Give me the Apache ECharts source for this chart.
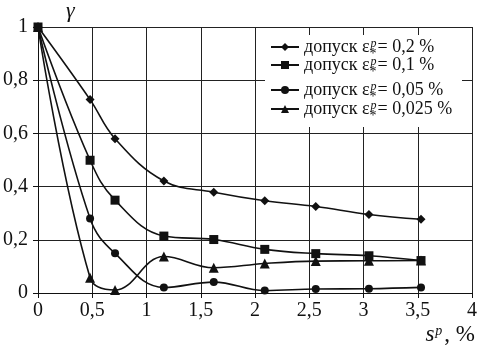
<!DOCTYPE html>
<html>
<head>
<meta charset="utf-8">
<script src="https://cdn.jsdelivr.net/npm/echarts@6/dist/echarts.min.js"></script>
<style>
  html, body { margin: 0; padding: 0; background: #fff; }
  #chart { width: 498px; height: 349px; }
</style>
</head>
<body>
<div id="chart"></div>
<script>
// strain s^p, % (same for all curves)
const sp = [0, 0.48, 0.71, 1.16, 1.62, 2.09, 2.56, 3.05, 3.53];

const tol02 = [1, 0.727, 0.58, 0.421, 0.379, 0.347, 0.325, 0.295, 0.277];
const tol01 = [1, 0.499, 0.349, 0.214, 0.201, 0.164, 0.148, 0.14, 0.122];
const tol005 = [1, 0.28, 0.149, 0.021, 0.041, 0.009, 0.015, 0.016, 0.021];
const tol0025 = [1, 0.057, 0.011, 0.137, 0.095, 0.111, 0.12, 0.121, 0.122];

const tolLabels = ['0,2', '0,1', '0,05', '0,025'];
const names = tolLabels.map(t => 'допуск ' + t);
const legendTops = [38, 56, 81, 100];

const FONT = '"Liberation Serif", "DejaVu Serif", serif';
const ink = '#111';

const zip = ys => ys.map((y, i) => [sp[i], y]);

function mkSeries(name, ys, symbol, size, z) {
  return {
    name, type: 'line', data: zip(ys), smooth: 0.4,
    symbol, symbolSize: size, clip: false, z,
    lineStyle: { color: ink, width: 1.6 },
    itemStyle: { color: ink }
  };
}

// ε with sub * and sup p stacked (sup pulled back over the sub)
const rich = {
  a: { fontFamily: FONT, fontSize: 18, lineHeight: 18, color: ink },
  sub: { fontFamily: FONT, fontSize: 14, lineHeight: 12, verticalAlign: 'bottom', color: ink, padding: [0, 0, -5, 0] },
  sup: { fontFamily: FONT, fontSize: 12, fontStyle: 'italic', lineHeight: 7, verticalAlign: 'top', color: ink, padding: [0, 1, 0, -6] }
};

const chart = echarts.init(document.getElementById('chart'));
chart.setOption({
  animation: false,
  backgroundColor: '#fff',
  textStyle: { fontFamily: FONT },
  grid: { left: 35, right: 26, top: 23, bottom: 56 },
  xAxis: {
    type: 'value', min: 0, max: 4, interval: 0.5,
    name: '{s|s}{p|p}{t|, %}', nameLocation: 'end', nameGap: 3,
    nameTextStyle: {
      align: 'right', verticalAlign: 'top', padding: [31, 0, 0, 0],
      rich: {
        s: { fontFamily: FONT, fontStyle: 'italic', fontSize: 23, color: ink, lineHeight: 22, verticalAlign: 'bottom' },
        p: { fontFamily: FONT, fontStyle: 'italic', fontSize: 14, color: ink, lineHeight: 13, verticalAlign: 'top', padding: [0, 2, 0, 1] },
        t: { fontFamily: FONT, fontSize: 23, color: ink, lineHeight: 22, verticalAlign: 'bottom' }
      }
    },
    axisLine: { lineStyle: { color: ink, width: 1 } },
    axisTick: { show: true, length: 5, lineStyle: { color: ink } },
    axisLabel: {
      fontFamily: FONT, fontSize: 20, color: ink, margin: 8,
      formatter: v => String(v).replace('.', ',')
    },
    splitLine: { show: true, lineStyle: { color: '#222', width: 1 } }
  },
  yAxis: {
    type: 'value', min: 0, max: 1, interval: 0.2,
    name: 'γ', nameLocation: 'end', nameGap: 5,
    nameTextStyle: { fontFamily: FONT, fontStyle: 'italic', fontSize: 22, color: ink, align: 'left', padding: [0, 0, 0, 28] },
    axisLine: { show: true, lineStyle: { color: ink, width: 1 } },
    axisTick: { show: true, length: 5, lineStyle: { color: ink } },
    axisLabel: {
      fontFamily: FONT, fontSize: 20, color: ink, margin: 10,
      formatter: v => String(v).replace('.', ',')
    },
    splitLine: { show: true, lineStyle: { color: '#222', width: 1 } }
  },
  graphic: [{
    type: 'rect', z: 1,
    shape: { x: 265, y: 35, width: 197, height: 92 },
    style: { fill: '#fff' }
  }],
  legend: names.map((n, i) => ({
    data: [n], left: 270, top: legendTops[i], padding: 0,
    itemWidth: 28, itemHeight: 10, itemGap: 0, selectedMode: false,
    formatter: () => '{a|допуск ε}{sub|*}{sup|p}{a|= ' + tolLabels[i] + ' %}',
    textStyle: { rich }
  })),
  series: [
    mkSeries(names[0], tol02, 'diamond', 9, 2),
    mkSeries(names[1], tol01, 'rect', 9, 5),
    mkSeries(names[2], tol005, 'circle', 8, 3),
    mkSeries(names[3], tol0025, 'triangle', 10, 4)
  ]
});
</script>
</body>
</html>
